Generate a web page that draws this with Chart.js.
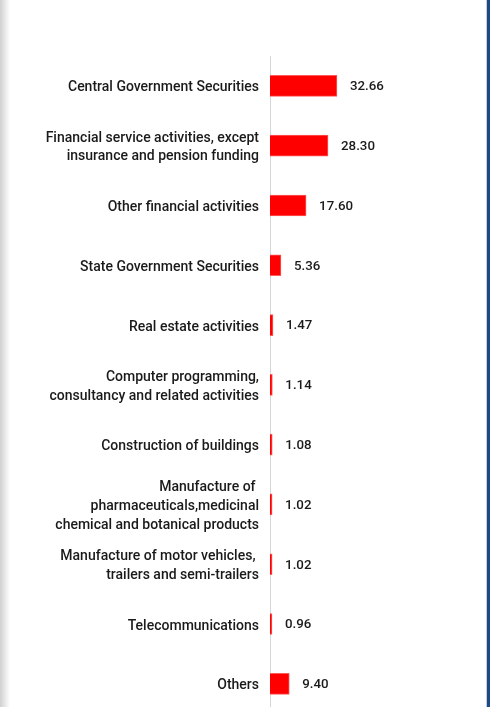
<!DOCTYPE html>
<html>
<head>
<meta charset="utf-8">
<script src="https://cdn.jsdelivr.net/npm/chart.js@4/dist/chart.umd.min.js"></script>
<style>
  html, body { margin: 0; padding: 0; background: #fff; overflow: hidden; }
  .frame { position: relative; width: 502px; height: 707px; overflow: hidden; }
  .shade { position: absolute; left: 0; top: 0; width: 10px; height: 707px;
           background: linear-gradient(to right, #d0d0d0, #ffffff); }
  .edge { position: absolute; left: 486px; top: 0; width: 1px; height: 707px; background: #c9ccd2; }
  .edge2 { position: absolute; left: 487px; top: 0; width: 3px; height: 707px; background: #1c4a86; }
  canvas { position: absolute; left: 0; top: 0; }
</style>
</head>
<body>
<div class="frame">
  <div class="shade"></div>
  <canvas id="chart" width="502" height="734"></canvas>
  <div class="edge"></div>
  <div class="edge2"></div>
</div>
<script>
  // 行业分布（%）
  var categories = [
    'Central Government Securities',
    ['Financial service activities, except', 'insurance and pension funding'],
    'Other financial activities',
    'State Government Securities',
    'Real estate activities',
    ['Computer programming,', 'consultancy and related activities'],
    'Construction of buildings',
    ['Manufacture of ', 'pharmaceuticals,medicinal', 'chemical and botanical products'],
    ['Manufacture of motor vehicles, ', 'trailers and semi-trailers'],
    'Telecommunications',
    'Others'
  ];
  var shares = [32.66, 28.30, 17.60, 5.36, 1.47, 1.14, 1.08, 1.02, 1.02, 0.96, 9.40];

  var FONT = 'Roboto, Lato, sans-serif';

  // 数值标签
  var valueLabels = {
    id: 'valueLabels',
    afterDatasetsDraw: function (chart) {
      var ctx = chart.ctx;
      var meta = chart.getDatasetMeta(0);
      ctx.save();
      ctx.font = '500 13.3px ' + FONT;
      ctx.fillStyle = '#1a1a1a';
      ctx.textAlign = 'left';
      ctx.textBaseline = 'middle';
      meta.data.forEach(function (bar, i) {
        ctx.fillText(shares[i].toFixed(2), bar.x + 13, bar.y + 1);
      });
      ctx.restore();
    }
  };

  new Chart(document.getElementById('chart'), {
    type: 'bar',
    data: {
      labels: categories,
      datasets: [{
        data: shares,
        backgroundColor: '#ff0000',
        borderColor: '#ff5a5a',
        borderWidth: 1,
        barThickness: 21
      }]
    },
    options: {
      indexAxis: 'y',
      responsive: false,
      animation: false,
      layout: { padding: { top: 56, right: 27, bottom: 0, left: 0 } },
      plugins: { legend: { display: false }, tooltip: { enabled: false } },
      scales: {
        x: { display: false, min: 0, max: 100 },
        y: {
          afterFit: function (s) { s.width = 270; },
          grid: { display: false, drawTicks: false },
          border: { display: true, color: '#d6d6d6', width: 1 },
          ticks: {
            padding: 11,
            labelOffset: 2,
            color: '#1a1a1a',
            font: { family: FONT, size: 14, weight: '500', lineHeight: 1.33 }
          }
        }
      }
    },
    plugins: [valueLabels]
  });
</script>
</body>
</html>
